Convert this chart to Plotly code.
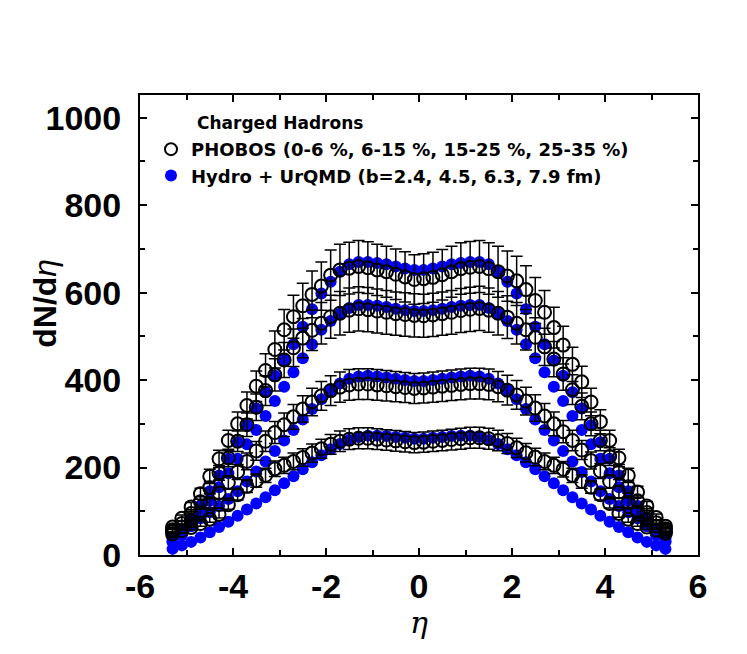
import plotly.graph_objects as go

eta = [round(-5.3 + 0.2 * i, 1) for i in range(54)]

# PHOBOS charged hadrons dN/deta (0-6 %, 6-15 %, 15-25 %, 25-35 %)
phobos_0_6 = [64, 84, 110, 140, 180, 220, 262, 300, 342, 386, 422, 470, 515, 545, 570, 596, 615, 640, 652, 656, 660, 657, 652, 648, 642, 636, 630,
              632, 635, 641, 648, 655, 658, 660, 655, 648, 638, 627, 607, 582, 555, 520, 480, 436, 396, 350, 305, 262, 222, 182, 144, 112, 86, 66]
phobos_6_15 = [58, 72, 95, 122, 154, 188, 222, 260, 298, 338, 376, 412, 446, 474, 496, 514, 530, 545, 553, 560, 563, 561, 558, 555, 552, 550, 548,
               547, 549, 552, 555, 559, 562, 564, 560, 553, 544, 530, 515, 498, 476, 448, 414, 378, 340, 300, 262, 225, 190, 156, 124, 97, 74, 60]
phobos_15_25 = [54, 64, 78, 96, 118, 142, 166, 190, 214, 238, 260, 280, 298, 316, 334, 350, 364, 376, 384, 389, 391, 391, 389, 387, 385, 383, 381,
                382, 384, 386, 388, 390, 392, 392, 390, 385, 377, 366, 352, 336, 318, 300, 282, 262, 240, 216, 192, 168, 144, 120, 98, 80, 66, 55]
phobos_25_35 = [48, 56, 63, 72, 82, 93, 115, 138, 157, 170, 182, 197, 205, 214, 223, 233, 243, 253, 260, 265, 267, 267, 265, 263, 261, 259, 257,
                258, 260, 262, 264, 266, 268, 268, 266, 262, 255, 245, 234, 224, 214, 205, 196, 182, 168, 155, 138, 118, 95, 82, 72, 64, 57, 50]

# Hydro + UrQMD (b = 2.4, 4.5, 6.3, 7.9 fm)
hydro_b24 = [38, 56, 82, 112, 146, 182, 220, 258, 297, 335, 372, 410, 446, 482, 522, 562, 598, 625, 648, 665, 670, 670, 668, 665, 660, 655, 652,
             652, 655, 660, 665, 668, 670, 670, 665, 648, 625, 598, 562, 522, 482, 445, 410, 372, 335, 297, 258, 220, 182, 146, 112, 82, 56, 38]
hydro_b45 = [31, 48, 70, 96, 124, 155, 187, 220, 253, 286, 318, 352, 385, 418, 450, 482, 515, 535, 552, 565, 572, 572, 570, 567, 563, 560, 558,
             558, 560, 563, 567, 570, 572, 572, 565, 552, 535, 515, 482, 450, 418, 385, 352, 318, 286, 253, 220, 187, 155, 124, 96, 70, 48, 31]
hydro_b63 = [30, 46, 66, 84, 98, 112, 128, 146, 168, 191, 214, 238, 262, 286, 310, 334, 356, 376, 392, 403, 408, 410, 408, 406, 403, 400, 398,
             398, 400, 403, 406, 408, 410, 408, 403, 392, 376, 356, 334, 310, 286, 262, 238, 214, 190, 168, 146, 128, 112, 98, 84, 66, 46, 30]
hydro_b79 = [14, 22, 30, 40, 52, 64, 76, 90, 104, 118, 132, 148, 164, 180, 196, 212, 228, 242, 254, 263, 270, 273, 273, 272, 270, 268, 266,
             266, 268, 270, 272, 273, 273, 270, 263, 254, 242, 228, 212, 196, 180, 164, 148, 132, 118, 104, 90, 76, 64, 52, 40, 30, 22, 14]

phobos_sets = [phobos_0_6, phobos_6_15, phobos_15_25, phobos_25_35]
hydro_sets = [hydro_b24, hydro_b45, hydro_b63, hydro_b79]

phobos_err_percent = 9

x_ticks = [-6, -4, -2, 0, 2, 4, 6]
x_ticktext = ["-6", "-4", "-2", "0", "2", "4", "6"]
y_ticks = [0, 200, 400, 600, 800, 1000]

font_main = "Liberation Sans, Arial, sans-serif"
font_legend = "DejaVu Sans, sans-serif"

# page body adds an 8 px offset, so the figure is drawn 8 px smaller
W, H = 739, 646
L, T = 132, 87
PW, PH = 558, 460.5


def px_to_paper(px, py):
    # screen pixel (in the 747x654 window) -> paper fraction
    return (px - 8 - L) / PW, (T + PH - (py - 8)) / PH


fig = go.Figure()

for i, vals in enumerate(hydro_sets):
    fig.add_trace(go.Scatter(
        x=eta, y=vals, mode="markers",
        marker=dict(symbol="circle", size=12, color="#0000ff"),
        name="Hydro + UrQMD (b=2.4, 4.5, 6.3, 7.9 fm)",
        legendgroup="hydro", showlegend=(i == 0), legendrank=2,
    ))

for i, vals in enumerate(phobos_sets):
    fig.add_trace(go.Scatter(
        x=eta, y=vals, mode="markers",
        marker=dict(symbol="circle-open", size=13, color="black", line=dict(width=2, color="black")),
        error_y=dict(type="percent", value=phobos_err_percent, color="black", thickness=1.5, width=6),
        name="PHOBOS (0-6 %, 6-15 %, 15-25 %, 25-35 %)",
        legendgroup="phobos", showlegend=(i == 0), legendrank=1,
    ))

axis_common = dict(
    showgrid=False, zeroline=False, automargin=False,
    showline=True, linecolor="black", linewidth=2, mirror="ticks",
    ticks="inside", ticklen=7, tickwidth=1.5, tickcolor="black",
    tickfont=dict(family=font_main, size=34, color="black", weight="bold"),
)

fig.update_xaxes(
    range=[-6, 6], tickvals=x_ticks, ticktext=x_ticktext,
    minor=dict(dtick=1, tick0=0, ticks="inside", ticklen=5, tickcolor="black", tickwidth=1.5),
    ticklabelstandoff=0,
    title=dict(text="<i>η</i>", font=dict(family="DejaVu Serif, serif", size=30, color="black"), standoff=0),
    **axis_common,
)
fig.update_yaxes(
    range=[0, 1052], tickvals=y_ticks,
    minor=dict(dtick=100, tick0=0, ticks="inside", ticklen=5, tickcolor="black", tickwidth=1.5),
    ticklabelstandoff=10,
    **axis_common,
)

tx, ty = px_to_paper(195, 123)
fig.add_annotation(
    xref="paper", yref="paper", x=tx, y=ty,
    xanchor="left", yanchor="middle",
    text="<b>Charged Hadrons</b>", showarrow=False,
    font=dict(family=font_legend, size=17, color="black"),
)

yx, yy = px_to_paper(45, 304)
fig.add_annotation(
    xref="paper", yref="paper", x=yx, y=yy,
    xanchor="center", yanchor="middle", textangle=-90,
    text="<b>dN/d</b><i>η</i>", showarrow=False,
    font=dict(family=font_main, size=32, color="black"),
)

lx, ly = px_to_paper(151, 131)
fig.update_layout(
    width=W, height=H,
    margin=dict(l=L, r=W - L - PW, t=T, b=H - T - PH),
    plot_bgcolor="white", paper_bgcolor="white",
    showlegend=True,
    legend=dict(
        x=lx, y=ly, xanchor="left", yanchor="top",
        bgcolor="rgba(0,0,0,0)", borderwidth=0,
        font=dict(family=font_legend, size=18, color="black", weight="bold"),
        itemsizing="constant", tracegroupgap=0,
    ),
)

fig.write_html("out.html")
